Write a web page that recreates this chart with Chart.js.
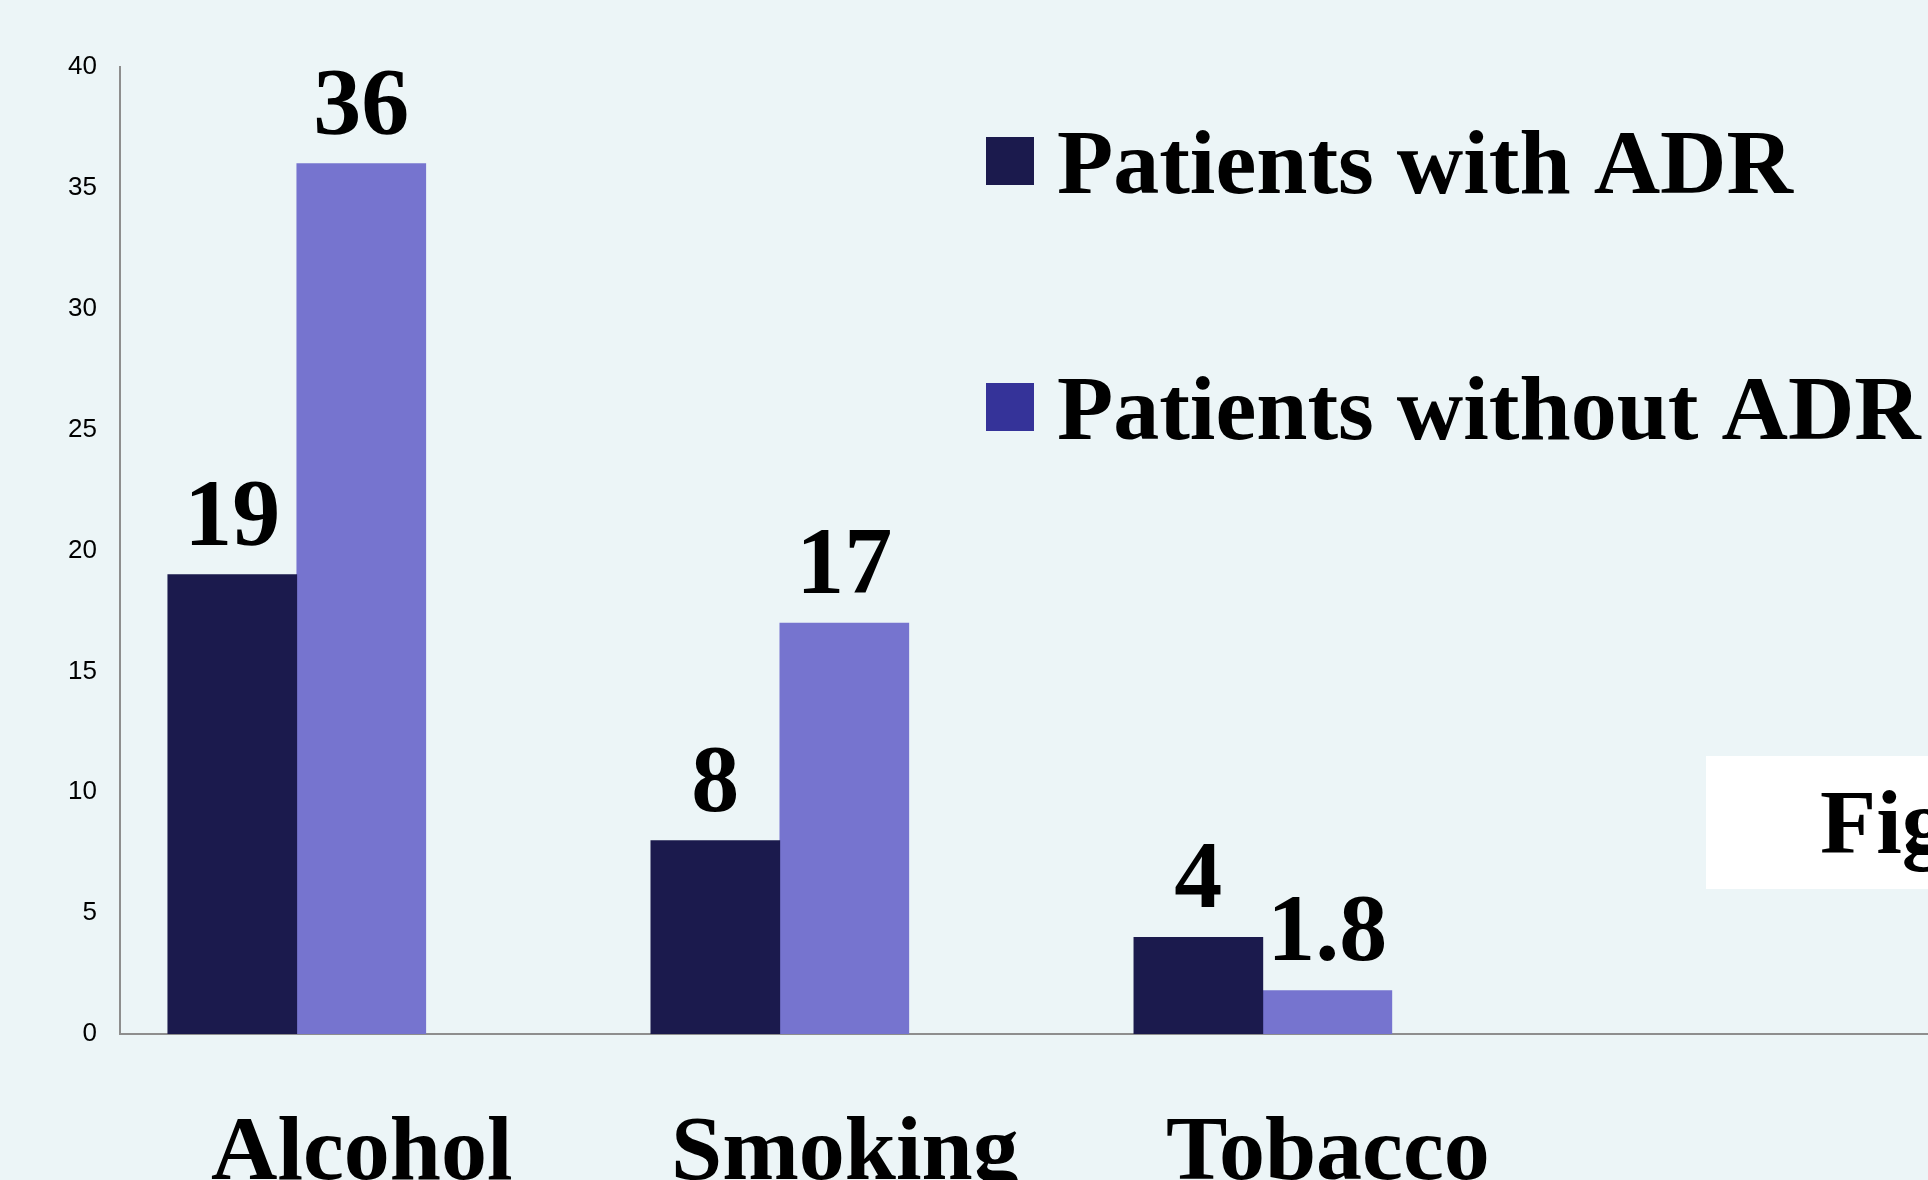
<!DOCTYPE html>
<html>
<head>
<meta charset="utf-8">
<script src="https://cdn.jsdelivr.net/npm/chart.js@4/dist/chart.umd.min.js"></script>
<style>
    html, body { margin: 0; padding: 0; background: #ecf5f7; overflow: hidden; }
    #wrap { position: relative; width: 1928px; height: 1180px; }
    #figBox {
        position: absolute; left: 1706px; top: 756px; width: 260px; height: 133px;
        background: #ffffff; overflow: hidden; white-space: nowrap;
        font: bold 92px 'Liberation Serif', 'Times New Roman', serif; color: #000;
        line-height: 133px; padding-left: 114px; box-sizing: border-box;
    }
</style>
</head>
<body>
<div id="wrap">
    <canvas id="adrChart"></canvas>
    <div id="figBox">Figure 1</div>
</div>
<script>
const categories = ['Alcohol', 'Smoking', 'Tobacco'];
const seriesNames = ['Patients with ADR', 'Patients without ADR'];
const withAdr = [19, 8, 4];
const withoutAdr = [36, 17, 1.8];
const barColors = ['#1b1a4d', '#7674cf'];
const legendColors = ['#1b1a4d', '#353399'];
const yTicks = [0, 5, 10, 15, 20, 25, 30, 35, 40];

const SERIF = "'Liberation Serif', 'Times New Roman', serif";

// numbers above each bar
const valueLabels = {
    id: 'valueLabels',
    afterDatasetsDraw(chart) {
        const ctx = chart.ctx;
        ctx.save();
        ctx.font = 'bold 96px ' + SERIF;
        ctx.fillStyle = '#000';
        ctx.textAlign = 'center';
        ctx.textBaseline = 'alphabetic';
        chart.data.datasets.forEach((ds, di) => {
            chart.getDatasetMeta(di).data.forEach((bar, i) => {
                ctx.fillText(String(ds.data[i].y), bar.x, bar.y - 30);
            });
        });
        ctx.restore();
    }
};

// legend on the right, over the plot
const sideLegend = {
    id: 'sideLegend',
    afterDraw(chart) {
        const ctx = chart.ctx;
        ctx.save();
        ctx.font = 'bold 92px ' + SERIF;
        ctx.textAlign = 'left';
        ctx.textBaseline = 'alphabetic';
        chart.data.datasets.forEach((ds, i) => {
            const top = 137 + i * 246;
            ctx.fillStyle = legendColors[i];
            ctx.fillRect(986, top, 48, 48);
            ctx.fillStyle = '#000';
            ctx.fillText(ds.label, 1057, top + 56);
        });
        ctx.restore();
    }
};

const ctx = document.getElementById('adrChart').getContext('2d');
new Chart(ctx, {
    type: 'bar',
    data: {
        datasets: [
            { label: seriesNames[0], data: withAdr.map((v, i) => ({ x: i, y: v })), backgroundColor: barColors[0], barThickness: 129 },
            { label: seriesNames[1], data: withoutAdr.map((v, i) => ({ x: i, y: v })), backgroundColor: barColors[1], barThickness: 129 }
        ]
    },
    options: {
        responsive: true,
        maintainAspectRatio: false,
        animation: false,
        layout: { padding: { top: 67, left: 0, right: 0, bottom: 0 } },
        plugins: { legend: { display: false }, tooltip: { enabled: false } },
        scales: {
            x: {
                type: 'linear',
                offset: false,
                min: -0.366,
                max: 3.377,
                afterBuildTicks: (scale) => { scale.ticks = categories.map((c, i) => ({ value: i })); },
                afterFit: (scale) => { scale.height = 146; },
                grid: { display: false },
                border: { display: true, color: '#8e8e8e', width: 2 },
                ticks: {
                    autoSkip: false, maxRotation: 0, padding: 58, labelOffset: 65,
                    color: '#000', font: { family: SERIF, size: 92, weight: 'bold' },
                    callback: (v) => categories[v] ?? ''
                }
            },
            y: {
                min: 0,
                max: 40,
                afterBuildTicks: (scale) => { scale.ticks = yTicks.map(v => ({ value: v })); },
                afterFit: (scale) => { scale.width = 120; },
                grid: { display: false },
                border: { display: true, color: '#8e8e8e', width: 2 },
                ticks: { padding: 15, color: '#000', font: { family: "'Liberation Sans', Arial, sans-serif", size: 26 } }
            }
        }
    },
    plugins: [valueLabels, sideLegend]
});
</script>
</body>
</html>
